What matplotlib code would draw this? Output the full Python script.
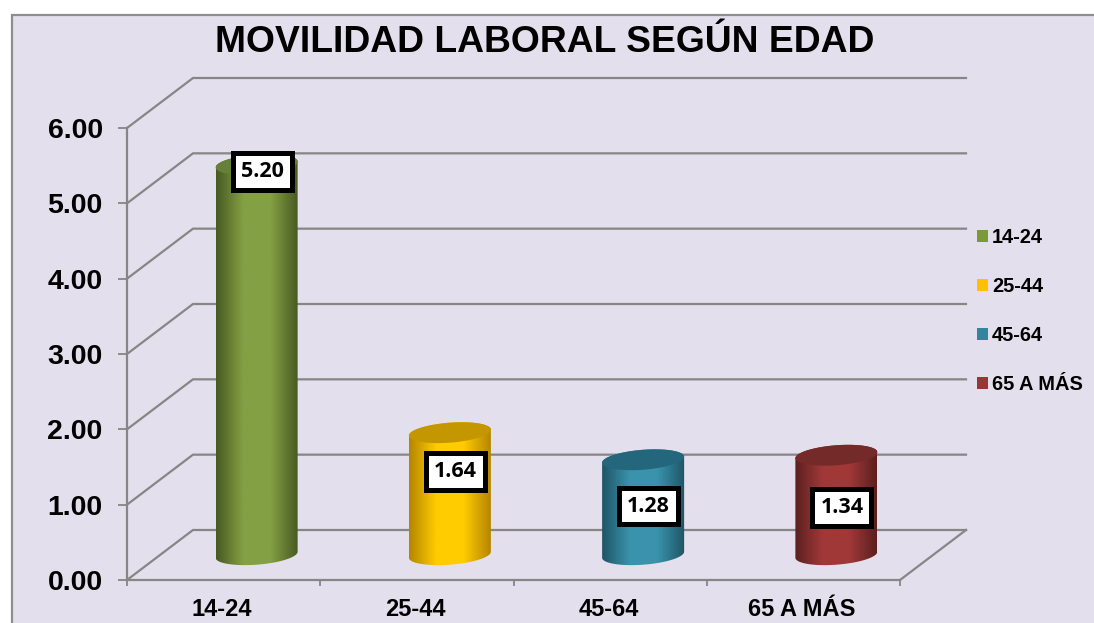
import matplotlib
matplotlib.use("Agg")
import matplotlib.pyplot as plt
import numpy as np
from matplotlib.colors import LinearSegmentedColormap
from matplotlib.patches import Patch, PathPatch, Rectangle
from matplotlib.path import Path

categories = ["14-24", "25-44", "45-64", "65 A MÁS"]
values = [5.20, 1.64, 1.28, 1.34]
label_heights = [5.09, 1.11, 0.65, 0.63]
y_ticks = [0, 1, 2, 3, 4, 5, 6]

body_mid = ["#84A044", "#FFCC00", "#3A93AC", "#A03838"]
body_edge = ["#485A22", "#B58600", "#1F5566", "#5C1F1F"]
top_colors = ["#66803A", "#C49600", "#24677C", "#752A2A"]
legend_colors = ["#7A9A3A", "#FFC000", "#31859C", "#953735"]

BG = "#E4DFEC"
GRID = "#868686"
W, H = 1094, 623

plt.rcParams["font.family"] = "Liberation Sans"
plt.rcParams["font.weight"] = "bold"

fig = plt.figure(figsize=(W / 100, H / 100), dpi=100, facecolor="white")
fig.add_artist(Rectangle((11.5 / W, -0.02), 1.02, 1.02 - 14.5 / H,
                         transform=fig.transFigure, facecolor=BG,
                         edgecolor="#8E8E8E", linewidth=1.6, zorder=-1))

# front plane of the 3d box, px 127-900 and 128-580
ax = fig.add_axes([127 / W, 1 - 580 / H, 773 / W, 452 / H])
ax.patch.set_alpha(0)
ax.set_xlim(0, 4)
ax.set_ylim(0, 6)

# depth of the box in data units
px_x = 4 / 773
px_y = 6 / 452
dx = 66 * px_x
dy = 50 * px_y

for v in y_ticks:
    ax.plot([0, dx, 4 + dx], [v, v + dy, v + dy], color=GRID, lw=1.6,
            clip_on=False, zorder=1, solid_joinstyle="miter")
ax.plot([4, 4 + dx], [0, dy], color=GRID, lw=1.6, clip_on=False, zorder=1)

for s in ["top", "right"]:
    ax.spines[s].set_visible(False)
for s in ["left", "bottom"]:
    ax.spines[s].set_color(GRID)
    ax.spines[s].set_linewidth(1.6)

ax.set_yticks(y_ticks)
ax.set_yticklabels(["{:.2f}".format(v) for v in y_ticks], fontsize=20.5)
ax.tick_params(axis="y", length=6.5, width=1.3, color=GRID, pad=11)
ax.set_xticks(range(5))
ax.set_xticklabels([])
ax.tick_params(axis="x", which="major", length=4.5, width=1.3, color=GRID)
ax.set_xticks(np.arange(4) + 0.5 - 1.5 * px_x, minor=True)
ax.set_xticklabels(categories, minor=True, fontsize=17)
ax.tick_params(axis="x", which="minor", length=0, pad=13)

# cylinders
half_w = 41 * px_x
half_h = 10 * px_y
tilt = 3 * px_y
t = np.linspace(0, 2 * np.pi, 121)

for i, v in enumerate(values):
    cx = i + 0.5 + dx / 2
    base = dy / 2 + 0.3 * px_y
    xs = cx + half_w * np.cos(t)
    top_y = base + v - 1.5 * px_y + half_h * np.sin(t) + tilt * np.cos(t)

    # outline: lower half of the bottom ellipse, then back along the top
    lower = t[60:121]
    bx = cx + half_w * np.cos(lower)
    by = base + half_h * np.sin(lower) + tilt * np.cos(lower)
    upper = t[:61]
    ux = cx + half_w * np.cos(upper)
    uy = base + v - 1.5 * px_y + half_h * np.sin(upper) + tilt * np.cos(upper)
    body = np.vstack([np.column_stack([bx, by]), np.column_stack([ux, uy])])
    clip = PathPatch(Path(np.vstack([body, body[:1]]), closed=True),
                     transform=ax.transData, facecolor="none", edgecolor="none")
    ax.add_patch(clip)

    cmap = LinearSegmentedColormap.from_list(
        "c{}".format(i),
        [body_edge[i], body_mid[i], body_mid[i], body_edge[i]])
    grad = np.linspace(0, 1, 200).reshape(1, -1)
    top = base + v + 2 * half_h
    im = ax.imshow(grad, cmap=cmap, aspect="auto", zorder=3,
                   extent=[cx - half_w, cx + half_w, base - 2 * half_h, top])
    im.set_clip_path(clip)

    ax.fill(xs, top_y, color=top_colors[i], lw=0, zorder=4, clip_on=False)

    ax.text(cx + 5.5 * px_x, label_heights[i] + dy / 2,
            "{:.2f}".format(v), family="Open Sans", fontsize=15.5, fontweight="bold",
            ha="center", va="center", zorder=6, clip_on=False,
            bbox=dict(boxstyle="square,pad=0.37", facecolor="white",
                      edgecolor="black", linewidth=3.6))

ax.set_xlim(0, 4)
ax.set_ylim(0, 6)

handles = [Patch(facecolor=c, edgecolor="none") for c in legend_colors]
fig.legend(handles, categories, loc="upper left", frameon=False, fontsize=14.4,
           bbox_to_anchor=(977 / W, 1 - 228 / H), borderaxespad=0, borderpad=0,
           handlelength=0.55, handleheight=0.55, handletextpad=0.2, labelspacing=1.5)

fig.text(545 / W, 1 - 43 / H, "MOVILIDAD LABORAL SEGÚN EDAD", fontsize=26.8,
         ha="center", va="center", color="black")

fig.savefig("out.png", dpi=100)
